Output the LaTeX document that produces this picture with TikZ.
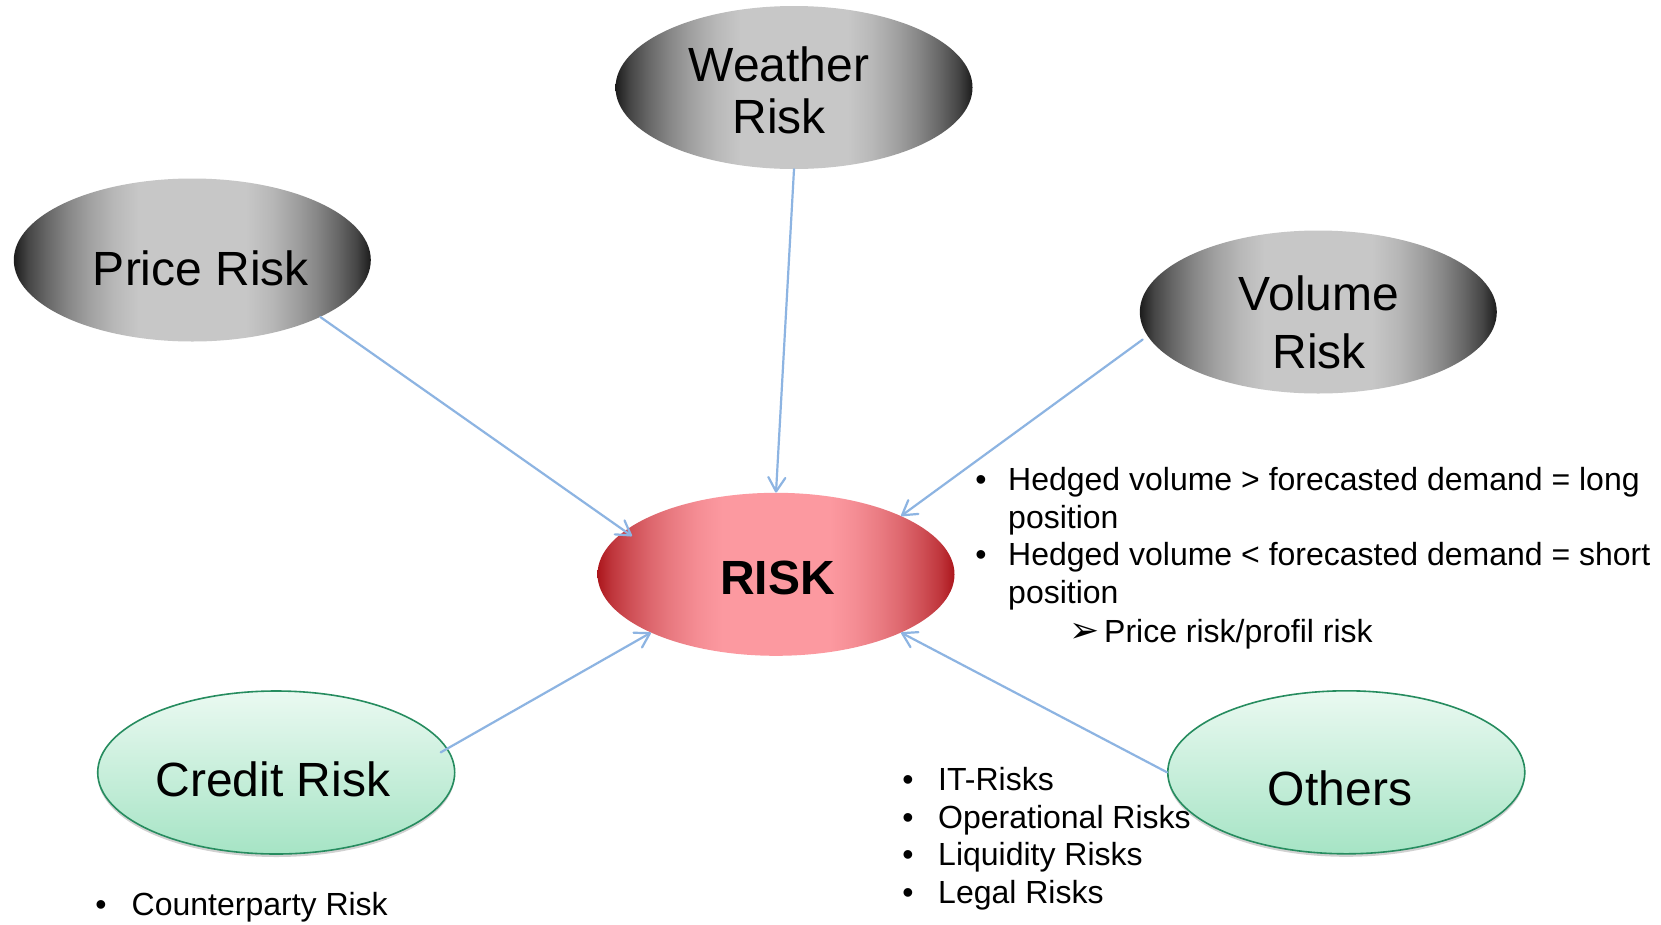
\documentclass[tikz,border=0pt]{standalone}
\usepackage{fontspec}
\setmainfont{Liberation Sans}
\newfontfamily\dingfont{DejaVu Sans}
\usetikzlibrary{shapes.geometric,arrows.meta,shadows}

% palette
\definecolor{linkblue}{RGB}{141,180,226}
\definecolor{gRim}{RGB}{28,28,28}
\definecolor{gCore}{RGB}{199,199,199}
\definecolor{rRim}{RGB}{172,22,28}
\definecolor{rCore}{RGB}{252,153,160}
\definecolor{greentop}{RGB}{234,249,241}
\definecolor{greenbot}{RGB}{166,228,197}
\definecolor{greenline}{RGB}{38,140,95}

% left-right gradients: dark rims easing into a broad light centre
\pgfdeclarehorizontalshading{greyorb}{100bp}{color(0bp)=(gRim); color(25bp)=(gRim);
  color(27bp)=(gCore!24!gRim); color(29.5bp)=(gCore!43!gRim); color(32.5bp)=(gCore!62!gRim);
  color(35.5bp)=(gCore!77!gRim); color(39bp)=(gCore!91!gRim); color(42.5bp)=(gCore);
  color(57.5bp)=(gCore); color(61bp)=(gCore!91!gRim); color(64.5bp)=(gCore!77!gRim);
  color(67.5bp)=(gCore!62!gRim); color(70.5bp)=(gCore!43!gRim); color(73bp)=(gCore!24!gRim);
  color(75bp)=(gRim); color(100bp)=(gRim)}
\pgfdeclarehorizontalshading{redorb}{100bp}{color(0bp)=(rRim); color(25bp)=(rRim);
  color(27bp)=(rCore!24!rRim); color(29.5bp)=(rCore!43!rRim); color(32.5bp)=(rCore!62!rRim);
  color(35.5bp)=(rCore!77!rRim); color(39bp)=(rCore!91!rRim); color(42.5bp)=(rCore);
  color(57.5bp)=(rCore); color(61bp)=(rCore!91!rRim); color(64.5bp)=(rCore!77!rRim);
  color(67.5bp)=(rCore!62!rRim); color(70.5bp)=(rCore!43!rRim); color(73bp)=(rCore!24!rRim);
  color(75bp)=(rRim); color(100bp)=(rRim)}

\tikzset{
  orb/.style={ellipse, minimum width=357pt, minimum height=163pt, inner sep=0pt},
  greyball/.style={orb, shading=greyorb},
  redball/.style={orb, shading=redorb},
  greenball/.style={orb, top color=greentop, bottom color=greenbot,
    draw=greenline, line width=1.6pt,
    drop shadow={shadow xshift=0pt, shadow yshift=-3pt, opacity=0.18, fill=black}},
  bigtext/.style={font=\fontsize{48pt}{58pt}\selectfont, inner sep=0pt},
  smalltext/.style={font=\fontsize{32pt}{38pt}\selectfont, inner sep=0pt, anchor=base west},
  bulletmark/.style={font=\fontsize{32pt}{38pt}\selectfont, inner sep=0pt, anchor=base},
  link/.style={draw=linkblue, line width=2.2pt, line cap=round,
    -{Straight Barb[length=14pt, width=17pt, line cap=round, line join=round]}}
}

\begin{document}
\begin{tikzpicture}[x=1pt, y=-1pt]
\fill[white] (0,0) rectangle (1661,924);
\useasboundingbox (0,0) rectangle (1661,924);

% the five risk sources and the central risk
\node[greyball] (weather) at (794,87.5) {};
\node[greyball] (price) at (192.3,260) {};
\node[greyball] (volume) at (1318.3,312) {};
\node[redball] (risk) at (776,574.3) {};
\node[greenball] (credit) at (276.2,772.5) {};
\node[greenball] (others) at (1346.3,772.3) {};

% ellipse captions
\node[bigtext, font=\fontsize{48pt}{51.6pt}\selectfont, align=center] (weathertext) at (779,90.3) {Weather\\Risk};
\node[bigtext, font=\fontsize{48pt}{58.3pt}\selectfont, align=center] (volumetext) at (1319,322) {Volume\\Risk};
\node[bigtext, anchor=base] (pricetext) at (201,285) {Price Risk};
\node[bigtext, anchor=base, font=\fontsize{48pt}{58pt}\selectfont\bfseries] (risktext) at (777.5,594.3) {RISK};
\node[bigtext, anchor=base] (credittext) at (272.8,796.7) {Credit Risk};
\node[bigtext, anchor=base] (otherstext) at (1340,805) {Others};

% connectors into the central risk
\draw[link] (weather.south) -- (risk.north);
\draw[link, shorten >=-9pt] (price.-24) -- (risk.164);
\draw[link, shorten <=6pt] (volume.188) -- (risk.25);
\draw[link, shorten <=-8pt] (credit.8) -- (risk.205);
\draw[link] (others.west) -- (risk.-25);

% notes on volume risk
\node[bulletmark] (vb1) at (981,490) {•};
\node[smalltext] (vt1) at (1008,490) {Hedged volume > forecasted demand = long};
\node[smalltext] (vt1b) at (1008,528) {position};
\node[bulletmark] (vb2) at (981,565) {•};
\node[smalltext] (vt2) at (1008,565) {Hedged volume < forecasted demand = short};
\node[smalltext] (vt2b) at (1008,603) {position};
\node[bulletmark, font=\dingfont\fontsize{36pt}{38pt}\selectfont] (vb3) at (1085,642) {➢};
\node[smalltext] (vt3) at (1104,642) {Price risk/profil risk};

% notes on other risks
\node[bulletmark] (ob1) at (908,790) {•};
\node[smalltext] (ot1) at (938,790) {IT-Risks};
\node[bulletmark] (ob2) at (908,828) {•};
\node[smalltext] (ot2) at (938,828) {Operational Risks};
\node[bulletmark] (ob3) at (908,865) {•};
\node[smalltext] (ot3) at (938,865) {Liquidity Risks};
\node[bulletmark] (ob4) at (908,903) {•};
\node[smalltext] (ot4) at (938,903) {Legal Risks};

% note on credit risk
\node[bulletmark] (cb1) at (101,915) {•};
\node[smalltext] (ct1) at (131.5,915) {Counterparty Risk};
\end{tikzpicture}
\end{document}
